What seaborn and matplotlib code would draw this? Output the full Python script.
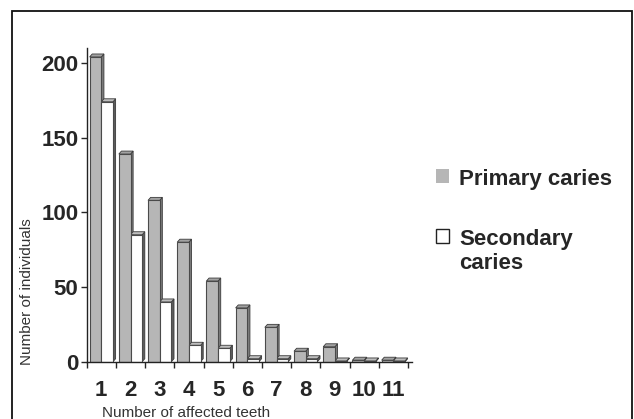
import matplotlib
matplotlib.use("Agg")
import matplotlib.pyplot as plt
import matplotlib.patches as mpatches
from matplotlib.ticker import FixedLocator
import seaborn as sns
import pandas as pd

teeth = ["1", "2", "3", "4", "5", "6", "7", "8", "9", "10", "11"]
primary = [204, 139, 108, 80, 54, 36, 23, 7, 10, 1, 1]
secondary = [174, 85, 40, 11, 9, 2, 2, 2, 0.5, 0.5, 0.5]
series = ["Primary caries", "Secondary caries"]

df = pd.DataFrame({
    "teeth": teeth * 2,
    "count": primary + secondary,
    "type": [series[0]] * len(teeth) + [series[1]] * len(teeth),
})

sns.set_style("white")
plt.rcParams["font.family"] = ["Liberation Sans", "DejaVu Sans"]

W, H = 634, 419
fig = plt.figure(figsize=(W / 100, H / 100), dpi=100)
ax = fig.add_axes([86.7 / W, (H - 361.7) / H, 325 / W, 313.7 / H])

front = {series[0]: "#b6b6b6", series[1]: "#ffffff"}
side = {series[0]: "#7c7c7c", series[1]: "#5e5e5e"}
top = {series[0]: "#a2a2a2", series[1]: "#bdbdbd"}

sns.barplot(data=df, x="teeth", y="count", hue="type", order=teeth,
            hue_order=series, palette=[front[s] for s in series],
            width=0.8, gap=0, edgecolor="#4a4a4a", linewidth=0.8,
            legend=False, ax=ax, zorder=2)

# pseudo-3D depth faces derived from the drawn bars
dx, dy = 0.09, 2.0
bars = [p for p in ax.patches if isinstance(p, mpatches.Rectangle)]
n = len(teeth)
for i, p in enumerate(bars[: 2 * n]):
    s = series[0] if i < n else series[1]
    x0, x1 = p.get_x(), p.get_x() + p.get_width()
    h = p.get_height()
    ax.add_patch(mpatches.Polygon([(x1, 0), (x1 + dx, dy), (x1 + dx, h + dy), (x1, h)],
                                  closed=True, facecolor=side[s], edgecolor="#3a3a3a",
                                  lw=0.6, zorder=1.5))
    ax.add_patch(mpatches.Polygon([(x0, h), (x0 + dx, h + dy), (x1 + dx, h + dy), (x1, h)],
                                  closed=True, facecolor=top[s], edgecolor="#3a3a3a",
                                  lw=0.6, zorder=1.5))

ax.set_xlim(-0.5, 10.63)
ax.set_ylim(0, 210)
ax.set_yticks([0, 50, 100, 150, 200])
ax.set_yticklabels(["0", "50", "100", "150", "200"], fontsize=16, fontweight="bold")
ax.set_xticks(range(n))
ax.set_xticklabels(teeth, fontsize=16, fontweight="bold")
ax.xaxis.set_minor_locator(FixedLocator([k + 0.5 for k in range(-1, n)]))
ax.tick_params(axis="x", which="major", length=0, pad=13)
ax.tick_params(axis="x", which="minor", length=4, width=1, direction="out", bottom=True)
ax.tick_params(axis="y", length=4, width=1, direction="out", left=True, pad=2)
for sp in ["top", "right"]:
    ax.spines[sp].set_visible(False)
for sp in ["left", "bottom"]:
    ax.spines[sp].set_color("#222222")
    ax.spines[sp].set_linewidth(1.0)
ax.set_xlabel("")
ax.set_ylabel("")

fig.text(27 / W, 1 - 291.5 / H, "Number of individuals", rotation=90,
         ha="center", va="center", fontsize=11, color="#333333")
fig.text(101.7 / W, 1 - 413 / H, "Number of affected teeth",
         ha="left", va="center", fontsize=11, color="#333333")

handles = [mpatches.Patch(facecolor=front[series[0]], edgecolor="none"),
           mpatches.Patch(facecolor=front[series[1]], edgecolor="#222222", lw=1)]
leg = fig.legend(handles, ["Primary caries", "Secondary\ncaries"],
                 loc="upper left", bbox_to_anchor=(436 / W, 1 - 169 / H),
                 frameon=False, prop={"size": 16, "weight": "bold"},
                 handlelength=0.6, handleheight=0.6, handletextpad=0.45,
                 labelspacing=1.75, borderpad=0, borderaxespad=0)
# align each marker with the first line of its label
for col in leg._legend_handle_box.get_children():
    for row in col.get_children():
        row.align = "top"

fig.patches.append(mpatches.Rectangle((12 / W, -0.1), 620 / W, 1.1 - 11 / H,
                                      transform=fig.transFigure, fill=False,
                                      edgecolor="#111111", lw=1.3))

fig.savefig("out.png", dpi=100)
